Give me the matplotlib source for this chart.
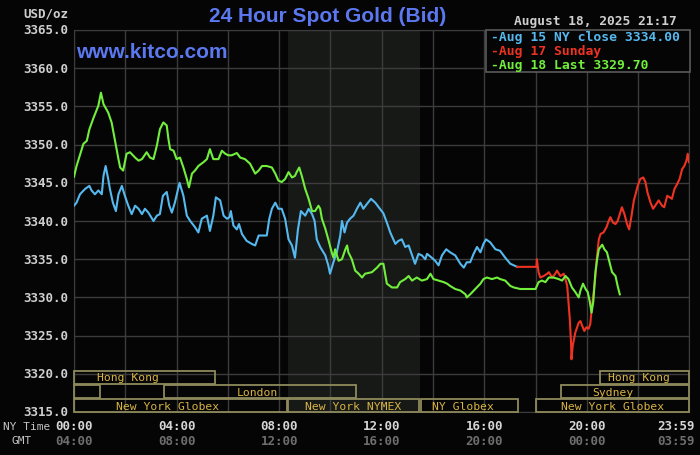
import matplotlib
matplotlib.use("Agg")
import matplotlib.pyplot as plt
from matplotlib.patches import Rectangle
import matplotlib.transforms as mtrans

# ── data (minutes after NY midnight, USD/oz) ──
aug15_min = [0, 6, 14, 26, 36, 41, 49, 57, 65, 69, 74, 80, 84, 91, 98, 104, 112, 119,
             127, 135, 143, 151, 159, 166, 174, 186, 194, 201, 208, 217, 223, 229, 236,
             247, 256, 264, 272, 283, 291, 299, 311, 318, 326, 332, 342, 350, 358, 364,
             367, 373, 381, 386, 393, 404, 416, 424, 432, 443, 451, 457, 463, 471, 478,
             486, 494, 502, 510, 517, 524, 531, 541, 549, 557, 563, 568, 576, 588, 595,
             599, 607, 615, 623, 627, 633, 639, 646, 654, 662, 670, 677, 685, 695, 705,
             713, 724, 732, 740, 752, 759, 767, 775, 783, 791, 798, 806, 814, 822, 826,
             837, 845, 853, 861, 871, 880, 892, 904, 912, 919, 927, 935, 943, 951, 958,
             964, 974, 986, 997, 1009, 1021, 1037]
aug15_px = [3342.0, 3342.4, 3343.5, 3344.2, 3344.6, 3344.0, 3343.5, 3344.0, 3343.5, 3345.9,
            3347.2, 3345.5, 3344.2, 3342.4, 3341.3, 3343.5, 3344.6, 3343.3, 3342.0, 3340.9,
            3342.0, 3341.6, 3340.9, 3341.6, 3341.1, 3340.0, 3340.7, 3340.9, 3343.3, 3343.8,
            3342.0, 3341.1, 3342.4, 3345.0, 3343.3, 3340.7, 3340.0, 3339.2, 3338.5, 3340.3,
            3340.7, 3338.7, 3340.7, 3343.1, 3342.7, 3340.7, 3340.3, 3340.5, 3341.3, 3339.4,
            3338.9, 3339.6, 3338.3, 3337.4, 3337.0, 3336.8, 3338.1, 3338.1, 3338.1, 3340.3,
            3341.6, 3342.4, 3341.6, 3341.6, 3340.3, 3337.6, 3336.8, 3335.2, 3338.9, 3341.3,
            3340.7, 3341.6, 3340.9, 3340.0, 3337.6, 3336.6, 3335.5, 3334.2, 3333.1, 3334.6,
            3335.9, 3338.1, 3340.0, 3338.5, 3339.8, 3340.3, 3340.7, 3341.6, 3342.4, 3341.6,
            3342.2, 3342.9, 3342.4, 3341.8, 3341.0, 3339.8, 3338.5, 3337.0, 3337.4, 3337.6,
            3336.6, 3336.8, 3335.5, 3334.4, 3335.7, 3335.5, 3335.0, 3335.7, 3335.2, 3334.8,
            3334.2, 3335.5, 3336.3, 3335.9, 3335.5, 3334.4, 3333.9, 3334.6, 3334.6, 3335.7,
            3336.6, 3335.9, 3337.0, 3337.6, 3337.2, 3336.3, 3336.1, 3335.2, 3334.4, 3334.0]

aug17_min = [1037, 1082, 1083, 1087, 1091, 1099, 1107, 1111, 1119, 1126, 1130, 1138, 1146,
             1150, 1154, 1157, 1160, 1163, 1164, 1167, 1173, 1181, 1185, 1189, 1194, 1199,
             1204, 1208, 1212, 1216, 1220, 1224, 1228, 1232, 1239, 1246, 1251, 1255, 1261,
             1267, 1272, 1277, 1282, 1288, 1294, 1299, 1304, 1310, 1314, 1319, 1325, 1332,
             1337, 1342, 1349, 1355, 1360, 1368, 1376, 1381, 1388, 1394, 1399, 1405, 1411,
             1417, 1423, 1428, 1433, 1436, 1439]
aug17_px = [3334.0, 3334.0, 3335.0, 3333.3, 3332.6, 3332.8, 3333.1, 3333.3, 3332.6, 3333.1,
            3333.5, 3332.8, 3333.1, 3332.4, 3331.5, 3329.4, 3327.2, 3324.1, 3321.9, 3323.7,
            3325.4, 3326.7, 3326.9, 3326.3, 3325.6, 3326.1, 3325.9, 3326.5, 3328.9, 3330.7,
            3332.8, 3335.5, 3337.6, 3338.3, 3338.5, 3339.2, 3340.0, 3340.5, 3339.8, 3339.6,
            3340.0, 3340.9, 3341.8, 3340.9, 3339.6, 3338.9, 3340.5, 3342.7, 3343.5, 3344.6,
            3345.5, 3345.7, 3345.1, 3343.7, 3342.4, 3341.6, 3342.0, 3342.7, 3342.0, 3341.8,
            3343.3, 3343.1, 3342.9, 3344.2, 3344.8, 3345.5, 3346.8, 3347.2, 3347.9, 3348.8,
            3347.7]

aug18_min = [0, 6, 22, 30, 36, 45, 57, 63, 69, 80, 88, 96, 104, 108, 115, 123, 131, 143,
             151, 159, 170, 178, 186, 194, 201, 209, 217, 221, 225, 233, 240, 248, 256, 264,
             269, 276, 283, 291, 303, 311, 318, 326, 338, 346, 354, 361, 369, 381, 389, 400,
             412, 424, 432, 440, 451, 463, 471, 478, 486, 494, 502, 510, 517, 521, 527, 533,
             541, 549, 557, 564, 572, 576, 580, 588, 595, 603, 607, 611, 619, 627, 635, 639,
             642, 650, 658, 666, 674, 681, 697, 709, 717, 724, 732, 744, 756, 763, 775, 783,
             791, 802, 814, 826, 834, 841, 853, 865, 873, 880, 892, 904, 916, 919, 927, 939,
             951, 958, 966, 978, 990, 997, 1009, 1021, 1029, 1044, 1080, 1087, 1095, 1103,
             1111, 1122, 1134, 1142, 1150, 1157, 1165, 1173, 1181, 1185, 1191, 1197, 1202,
             1207, 1211, 1215, 1220, 1224, 1228, 1236, 1241, 1247, 1253, 1259, 1267, 1272,
             1277]
aug18_px = [3345.8, 3347.2, 3350.1, 3350.5, 3352.0, 3353.4, 3355.1, 3356.8, 3355.3, 3354.2,
            3352.9, 3350.5, 3348.1, 3347.0, 3346.6, 3348.8, 3349.0, 3348.3, 3347.9, 3348.1,
            3349.0, 3348.3, 3348.1, 3349.9, 3352.0, 3352.9, 3352.5, 3350.7, 3349.4, 3349.2,
            3348.1, 3348.3, 3347.0, 3345.5, 3344.4, 3346.2, 3346.6, 3347.2, 3347.7, 3348.1,
            3349.4, 3348.1, 3348.1, 3349.2, 3348.8, 3348.6, 3348.6, 3348.9, 3348.3, 3348.1,
            3347.5, 3346.2, 3346.6, 3347.2, 3347.2, 3347.0, 3346.2, 3345.3, 3345.1, 3345.5,
            3346.4, 3345.7, 3345.9, 3346.4, 3347.0, 3345.9, 3344.2, 3342.9, 3341.3, 3341.3,
            3342.0, 3341.6, 3340.3, 3339.0, 3337.6, 3335.9, 3335.2, 3336.3, 3334.8, 3335.0,
            3336.3, 3336.8, 3335.9, 3335.0, 3333.5, 3333.1, 3332.6, 3333.1, 3333.3, 3333.9,
            3334.4, 3334.4, 3331.8, 3331.3, 3331.3, 3332.0, 3332.4, 3332.8, 3332.2, 3332.6,
            3332.2, 3332.4, 3333.1, 3332.4, 3332.2, 3332.0, 3331.8, 3331.5, 3331.1, 3330.9,
            3330.4, 3330.0, 3330.4, 3331.1, 3331.8, 3332.4, 3332.6, 3332.4, 3332.6, 3332.4,
            3332.2, 3331.5, 3331.3, 3331.1, 3331.1, 3332.0, 3332.2, 3332.0, 3332.6, 3332.6,
            3332.4, 3332.2, 3332.8, 3332.4, 3331.3, 3330.7, 3330.0, 3330.9, 3331.8, 3331.1,
            3330.7, 3329.4, 3328.0, 3329.4, 3333.3, 3335.0, 3336.3, 3336.9, 3336.3, 3335.9,
            3334.6, 3333.3, 3332.8, 3331.5, 3330.4]

legend_labels = ["Aug 15 NY close 3334.00", "Aug 17 Sunday", "Aug 18 Last 3329.70"]
ny_ticks = ["00:00", "04:00", "08:00", "12:00", "16:00", "20:00", "23:59"]
gmt_ticks = ["04:00", "08:00", "12:00", "16:00", "20:00", "00:00", "03:59"]
tick_min = [0, 240, 480, 720, 960, 1200, 1439]

# market sessions: (row, start_min, end_min, label, label_center_min)
sessions = [
    (2, 0, 330, "Hong Kong", 126),
    (2, 1230, 1439, "Hong Kong", 1323),
    (1, 0, 60, "", 0),
    (1, 210, 660, "London", 430),
    (1, 1140, 1439, "Sydney", 1260),
    (0, 0, 498, "New York Globex", 218),
    (0, 500, 808, "New York NYMEX", 654),
    (0, 812, 1040, "NY Globex", 911),
    (0, 1082, 1439, "New York Globex", 1260),
]
nymex_span = (500, 810)

BG = "#050505"
GRID = "#3c3c3c"
BLUE_T = "#5b78f0"
C15, C17, C18 = "#55b9ef", "#ef3322", "#72ef3c"
SESS_EDGE = "#8e8a5c"
SESS_TXT = "#d8b443"
MONO = "DejaVu Sans Mono"

fig = plt.figure(figsize=(7.0, 4.56), dpi=100, facecolor=BG)
ax = fig.add_axes([74 / 700, 1 - 413 / 456, 615 / 700, 382 / 456], facecolor=BG)

ax.set_xlim(0, 1439)
ax.set_ylim(3315, 3365)
ax.axvspan(*nymex_span, color="#171917", zorder=0, lw=0)

for x in range(0, 1441, 120):
    ax.axvline(x, color=GRID, lw=1, zorder=1)
for y in range(3315, 3366, 5):
    ax.axhline(y, color=GRID, lw=1, zorder=1)

for s in ax.spines.values():
    s.set_color(GRID)
ax.tick_params(length=0, labelbottom=False, labelleft=False)

ax.plot(aug15_min, aug15_px, color=C15, lw=1.5, zorder=4)
ax.plot(aug17_min, aug17_px, color=C17, lw=1.5, zorder=4)
ax.plot(aug18_min, aug18_px, color=C18, lw=1.5, zorder=5)

# session bars (x in data, y in axes fraction)
trans = mtrans.blended_transform_factory(ax.transData, ax.transAxes)
row_y = [(0.0, 0.033), (0.036, 0.0705), (0.0735, 0.1085)]
for row, x0, x1, lab, xc in sessions:
    y0, y1 = row_y[row]
    ax.add_patch(Rectangle((x0, y0), x1 - x0, y1 - y0, transform=trans,
                           fill=False, ec=SESS_EDGE, lw=1.3, zorder=6, clip_on=False))
    if lab:
        ax.text(xc, (y0 + y1) / 2, lab, transform=trans, color=SESS_TXT,
                fontsize=8.2, family=MONO, ha="center", va="center", zorder=7)

# y tick labels
for y in range(3315, 3366, 5):
    fig.text(68 / 700, 1 - (31 + (3365 - y) * 382 / 50) / 456, f"{y:.1f}",
             color="#cfcfcf", fontsize=9, family=MONO, weight="bold",
             ha="right", va="center")
fig.text(68 / 700, 1 - 14 / 456, "USD/oz", color="#cfcfcf", fontsize=9,
         family=MONO, weight="bold", ha="right", va="center")

# x tick labels, NY time and GMT
for m, ny, gm in zip(tick_min, ny_ticks, gmt_ticks):
    xp = 74 + m * 615 / 1439
    if ny == "23:59":
        xp = 676
    fig.text(xp / 700, 1 - 427 / 456, ny, color="#d6d6d6", fontsize=9,
             family=MONO, weight="bold", ha="center", va="center")
    fig.text(xp / 700, 1 - 442 / 456, gm, color="#6e6e6e", fontsize=9,
             family=MONO, weight="bold", ha="center", va="center")
fig.text(3 / 700, 1 - 427 / 456, "NY Time", color="#c4c4c4", fontsize=8,
         family=MONO, ha="left", va="center")
fig.text(12 / 700, 1 - 441 / 456, "GMT", color="#c4c4c4", fontsize=8,
         family=MONO, ha="left", va="center")

# titles
fig.text(328 / 700, 1 - 17 / 456, "24 Hour Spot Gold (Bid)", color=BLUE_T,
         fontsize=15, family="Liberation Sans", weight="bold", ha="center", va="center")
fig.text(76 / 700, 1 - 53 / 456, "www.kitco.com", color=BLUE_T, fontsize=15,
         family="Liberation Sans", weight="bold", ha="left", va="center", zorder=8)
fig.text(677 / 700, 1 - 22 / 456, "August 18, 2025 21:17", color="#cfcfcf",
         fontsize=9.3, family=MONO, weight="bold", ha="right", va="center")

# legend box
lx0, lx1, ly0, ly1 = 486, 690, 31, 73
fig.patches.append(Rectangle((lx0 / 700, 1 - ly1 / 456), (lx1 - lx0) / 700,
                             (ly1 - ly0) / 456, transform=fig.transFigure,
                             fc=BG, ec="#5a5a5a", lw=1.2, zorder=10))
for i, (lab, c) in enumerate(zip(legend_labels, [C15, C17, C18])):
    fig.text(491 / 700, 1 - (38 + i * 14) / 456, "-" + lab, color=c, fontsize=9.4,
             family=MONO, weight="bold", ha="left", va="center", zorder=11)

fig.savefig("out.png", dpi=100, facecolor=BG)
